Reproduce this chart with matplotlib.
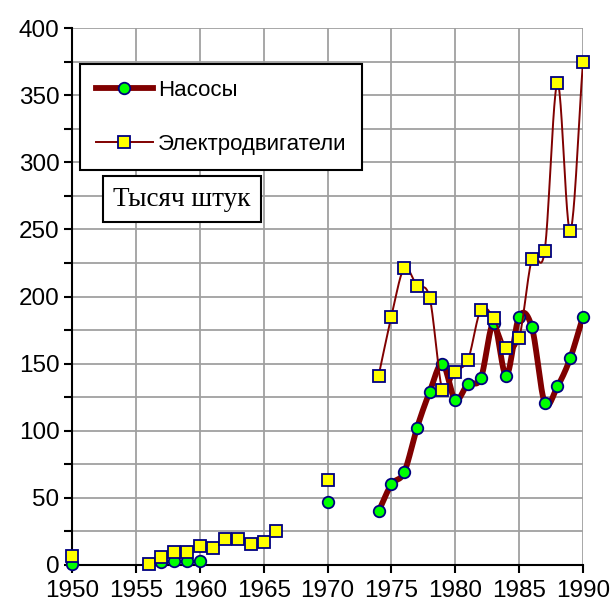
import numpy as np
import matplotlib
matplotlib.use("Agg")
import matplotlib.pyplot as plt
from matplotlib.lines import Line2D
from matplotlib.ticker import MultipleLocator

MAROON = "#800000"
NAVY   = "#000080"
GREEN  = "#00FF00"
YELLOW = "#FFFF00"
GRID   = "#A0A0A0"

pump_years = [1950, 1957, 1958, 1959, 1960, 1970,
              1974, 1975, 1976, 1977, 1978, 1979, 1980, 1981, 1982,
              1983, 1984, 1985, 1986, 1987, 1988, 1989, 1990]
pumps      = [1, 2, 3, 3, 3, 47,
              40, 60, 69, 102, 129, 150, 123, 135, 139,
              180, 141, 185, 177, 121, 133, 154, 185]

motor_years = [1950, 1956, 1957, 1958, 1959, 1960, 1961, 1962, 1963, 1964,
               1965, 1966, 1970,
               1974, 1975, 1976, 1977, 1978, 1979, 1980, 1981, 1982,
               1983, 1984, 1985, 1986, 1987, 1988, 1989, 1990]
motors      = [7, 1, 6, 10, 10, 14, 13, 19, 19, 16,
               17, 25, 63,
               141, 185, 221, 208, 199, 130, 144, 153, 190,
               184, 162, 169, 228, 234, 359, 249, 375]

LINE_START = 1974


def smooth(xs, ys, n=24):
    # Catmull-Rom path through the points, like Excel's smoothed line
    xs = np.asarray(xs, float)
    ys = np.asarray(ys, float)
    px = np.concatenate([[2 * xs[0] - xs[1]], xs, [2 * xs[-1] - xs[-2]]])
    py = np.concatenate([[2 * ys[0] - ys[1]], ys, [2 * ys[-1] - ys[-2]]])
    t = np.linspace(0, 1, n, endpoint=False)
    ox, oy = [], []
    for i in range(1, len(px) - 2):
        for p, o in ((px, ox), (py, oy)):
            p0, p1, p2, p3 = p[i - 1], p[i], p[i + 1], p[i + 2]
            o.extend(0.5 * ((2 * p1) + (-p0 + p2) * t
                            + (2 * p0 - 5 * p1 + 4 * p2 - p3) * t ** 2
                            + (-p0 + 3 * p1 - 3 * p2 + p3) * t ** 3))
    ox.append(xs[-1])
    oy.append(ys[-1])
    return ox, oy


fig = plt.figure(figsize=(6.14, 6.04), dpi=100)
ax = fig.add_axes([0.1173, 0.0646, 0.8322, 0.889])

py_ = np.array(pump_years)
my_ = np.array(motor_years)
pv = np.array(pumps)
mv = np.array(motors)

sx, sy = smooth(py_[py_ >= LINE_START], pv[py_ >= LINE_START])
ax.plot(sx, sy, color=MAROON, linewidth=4.2, solid_capstyle="round", zorder=3)
ax.plot(py_, pv, linestyle="none", marker="o", markersize=8.3,
        markerfacecolor=GREEN, markeredgecolor=NAVY, markeredgewidth=1.3,
        zorder=4, clip_on=False)

sx, sy = smooth(my_[my_ >= LINE_START], mv[my_ >= LINE_START])
ax.plot(sx, sy, color=MAROON, linewidth=1.4, zorder=5)
ax.plot(my_, mv, linestyle="none", marker="s", markersize=8.8,
        markerfacecolor=YELLOW, markeredgecolor=NAVY, markeredgewidth=1.3,
        zorder=6, clip_on=False)

ax.set_xlim(1950, 1990)
ax.set_ylim(0, 400)
ax.xaxis.set_major_locator(MultipleLocator(5))
ax.yaxis.set_major_locator(MultipleLocator(50))
ax.yaxis.set_minor_locator(MultipleLocator(25))
ax.grid(True, which="both", color=GRID, linewidth=1.3)
ax.set_axisbelow(True)
for side in ("top", "right"):
    ax.spines[side].set_visible(False)
for side in ("left", "bottom"):
    ax.spines[side].set_linewidth(1.5)
ax.tick_params(which="both", direction="out", length=6, width=1.5,
               labelsize=17.5)
ax.tick_params(axis="y", pad=3)
ax.tick_params(axis="x", pad=5)
for lab in ax.get_xticklabels() + ax.get_yticklabels():
    lab.set_family("Liberation Sans")

handles = [
    Line2D([], [], color=MAROON, linewidth=4.2, marker="o", markersize=8.3,
           markerfacecolor=GREEN, markeredgecolor=NAVY, markeredgewidth=1.3),
    Line2D([], [], color=MAROON, linewidth=1.4, marker="s", markersize=8.8,
           markerfacecolor=YELLOW, markeredgecolor=NAVY, markeredgewidth=1.3),
]
leg = fig.legend(handles, ["Насосы", "Электродвигатели"],
                 loc="upper left", bbox_to_anchor=(80 / 614, 1 - 64 / 604),
                 prop={"family": "Liberation Sans", "size": 16},
                 frameon=True, fancybox=False, framealpha=1,
                 edgecolor="black", borderpad=0.7, labelspacing=1.5,
                 handlelength=2.6, handletextpad=0.2, borderaxespad=0)
leg.get_frame().set_linewidth(1.5)
leg.set_zorder(10)

fig.text(113 / 614, 1 - 199 / 604, "Тысяч штук", family="Liberation Serif",
         fontsize=19.5, va="center", ha="left", zorder=10,
         bbox=dict(boxstyle="square,pad=0.38", facecolor="white",
                   edgecolor="black", linewidth=1.5))

plt.savefig("out.png", dpi=100)
plt.close()
